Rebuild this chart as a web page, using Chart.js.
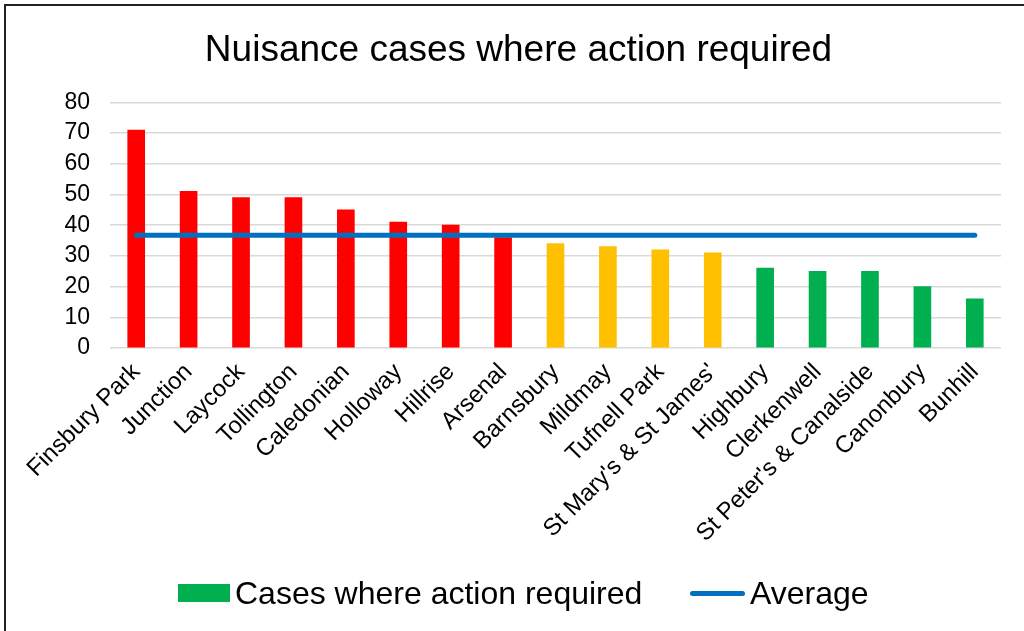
<!DOCTYPE html>
<html>
<head>
<meta charset="utf-8">
<script src="https://cdn.jsdelivr.net/npm/chart.js@4"></script>
<style>
  html, body { margin: 0; padding: 0; background: #fff; }
  #wrap { position: relative; width: 1024px; height: 631px; overflow: hidden; }
  #frame { position: absolute; left: 4px; top: 4px; width: 1100px; height: 700px;
           border-left: 2px solid #222; border-top: 2px solid #222; pointer-events: none; }
  canvas { position: absolute; left: 0; top: 0; }
  .legend { position: absolute; top: 575px; height: 36px; font-family: "Liberation Sans", Arial, sans-serif;
            font-size: 32px; color: #000; line-height: 36px; white-space: nowrap; }
  .box { position: absolute; }
</style>
</head>
<body>
<div id="wrap">
  <canvas id="chart" width="1024" height="631"></canvas>
  <div id="frame"></div>
  <div id="legend"></div>
</div>
<script>
// wards, sorted by number of cases
const wards = [
  "Finsbury Park", "Junction", "Laycock", "Tollington", "Caledonian", "Holloway",
  "Hillrise", "Arsenal", "Barnsbury", "Mildmay", "Tufnell Park", "St Mary's & St James'",
  "Highbury", "Clerkenwell", "St Peter's & Canalside", "Canonbury", "Bunhill"
];
const cases = [71, 51, 49, 49, 45, 41, 40, 36, 34, 33, 32, 31, 26, 25, 25, 20, 16];
const average = [36.7, 36.7, 36.7, 36.7, 36.7, 36.7, 36.7, 36.7, 36.7, 36.7, 36.7, 36.7, 36.7, 36.7, 36.7, 36.7, 36.7];
// RAG band for each ward
const bands = ["red", "red", "red", "red", "red", "red", "red", "red",
  "amber", "amber", "amber", "amber",
  "green", "green", "green", "green", "green"];
const yTicks = [0, 10, 20, 30, 40, 50, 60, 70, 80];

const bandColours = { red: "#FF0000", amber: "#FFC000", green: "#00B050" };
const lineColour = "#0070C0";
const font = "'Liberation Sans', Arial, sans-serif";

const chart = new Chart(document.getElementById("chart"), {
  data: {
    labels: wards,
    datasets: [
      {
        type: "line",
        label: "Average",
        data: average,
        borderColor: lineColour,
        borderWidth: 5,
        borderCapStyle: "round",
        pointRadius: 0,
        order: 0,
      },
      {
        type: "bar",
        label: "Cases where action required",
        data: cases,
        backgroundColor: bands.map((b) => bandColours[b]),
        barThickness: 17,
        order: 1,
      },
    ],
  },
  options: {
    responsive: false,
    animation: false,
    layout: { padding: { left: 36, right: 23, top: 0, bottom: 0 } },
    plugins: {
      legend: { display: false },
      tooltip: { enabled: false },
      title: {
        display: true,
        text: "Nuisance cases where action required",
        color: "#000",
        font: { family: font, size: 37, weight: "normal" },
        padding: { top: 29, bottom: 29 },
      },
    },
    scales: {
      x: {
        grid: { display: false, drawTicks: false },
        border: { display: false },
        ticks: {
          color: "#000",
          font: { family: font, size: 24 },
          minRotation: 45,
          maxRotation: 45,
          autoSkip: false,
          padding: 10,
        },
        afterFit: (scale) => { scale.height = 631 - 348; },
      },
      y: {
        min: 0,
        max: 80,
        afterBuildTicks: (scale) => { scale.ticks = yTicks.map((v) => ({ value: v })); },
        grid: { color: "#d9d9d9", lineWidth: 1.5, drawTicks: false },
        border: { display: false },
        ticks: {
          color: "#000",
          font: { family: font, size: 23, lineHeight: 1 },
          autoSkip: false,
          padding: 20,
        },
        afterFit: (scale) => { scale.width = 110 - 36; },
      },
    },
  },
});

// legend drawn as html, laid out like the spreadsheet legend
const legend = document.getElementById("legend");
const barSet = chart.data.datasets[1];
const lineSet = chart.data.datasets[0];
legend.innerHTML =
  `<div class="box" style="left:178px;top:584px;width:52px;height:18px;background:${bandColours.green}"></div>` +
  `<div class="legend" style="left:235px">${barSet.label}</div>` +
  `<div class="box" style="left:690px;top:591px;width:55px;height:5px;border-radius:3px;background:${lineSet.borderColor}"></div>` +
  `<div class="legend" style="left:750px">${lineSet.label}</div>`;
</script>
</body>
</html>
